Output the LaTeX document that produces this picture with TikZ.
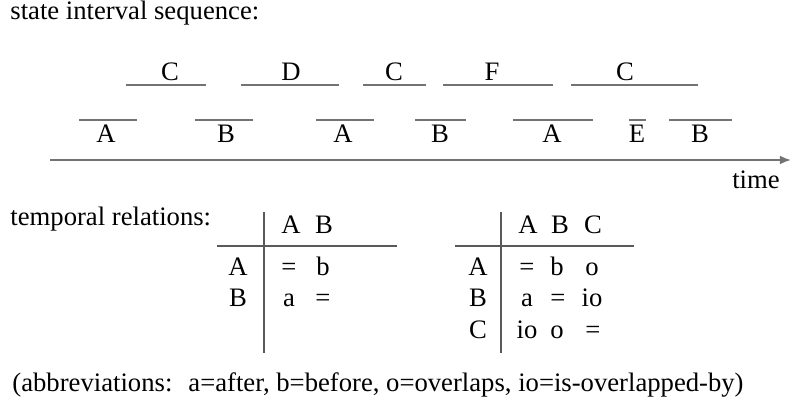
\documentclass[tikz,border=0pt]{standalone}
\usepackage{fontspec}
\setmainfont{Liberation Serif}
\usetikzlibrary{arrows.meta}

\begin{document}
\begin{tikzpicture}[x=.45pt,y=-.45pt,>={Latex[length=5pt,width=4pt]},
  every node/.style={font=\fontsize{12}{14}\selectfont},
  bar/.style={draw=black!55,line width=.8pt},
  rule/.style={draw=black!65,line width=.6pt},
  lbl/.style={anchor=base,inner sep=0pt},
  txt/.style={anchor=base west,inner sep=0pt}]
\useasboundingbox(0,0)rectangle(792,403);
\node[txt](seq)at(10,20){state interval sequence:};
% upper intervals
\foreach\a/\b/\m/\s[count=\i] in {126/206/170/C,241/339/291/D,363/426/394/C,443/553/492/F,571/698/625/C}{
  \draw[bar](\a,85)--(\b,85);
  \node[lbl](up\i)at(\m,81){\s};}
% lower intervals
\foreach\a/\b/\m/\s[count=\i] in {79/137/106/A,195/253/226/B,316/374/343/A,415/466/440/B,513/593/552/A,629/646/637/E,669/732/700/B}{
  \draw[bar](\a,120)--(\b,120);
  \node[lbl](lo\i)at(\m,143){\s};}
% time axis
\coordinate(t0)at(50,160);\coordinate(t1)at(791,160);
\draw[bar,->](t0)--(t1);
\node[lbl](time)at(756,189){time};
\node[txt](rel)at(10,226){temporal relations:};
% table AB
\draw[rule](264,212)--(264,353);\draw[rule](217,246)--(397,246);
\node[lbl](hA)at(291,234){A};\node[lbl](hB)at(324,234){B};
\node[lbl](rA)at(238,276){A};\node[lbl](rB)at(238,307){B};
\node[lbl](aa)at(289,276){=};\node[lbl](ab)at(323,276){b};
\node[lbl](ba)at(289,307){a};\node[lbl](bb)at(323,307){=};
% table ABC
\draw[rule](501,212)--(501,353);\draw[rule](455,246)--(634,246);
\node[lbl](HA)at(528,234){A};\node[lbl](HB)at(560,234){B};\node[lbl](HC)at(593,234){C};
\node[lbl](RA)at(478,276){A};\node[lbl](RB)at(478,307){B};\node[lbl](RC)at(478,339){C};
\node[lbl](AA)at(527,276){=};\node[lbl](AB)at(557,276){b};\node[lbl](AC)at(592,276){o};
\node[lbl](BA)at(527,307){a};\node[lbl](BB)at(558,307){=};\node[lbl](BC)at(592,307){io};
\node[lbl](CA)at(527,339){io};\node[lbl](CB)at(557,339){o};\node[lbl](CC)at(593,339){=};
\node[txt](abbr)at(12,392){(abbreviations:\hspace{.6em}a=after, b=before, o=overlaps, io=is-overlapped-by)};
\end{tikzpicture}
\end{document}
